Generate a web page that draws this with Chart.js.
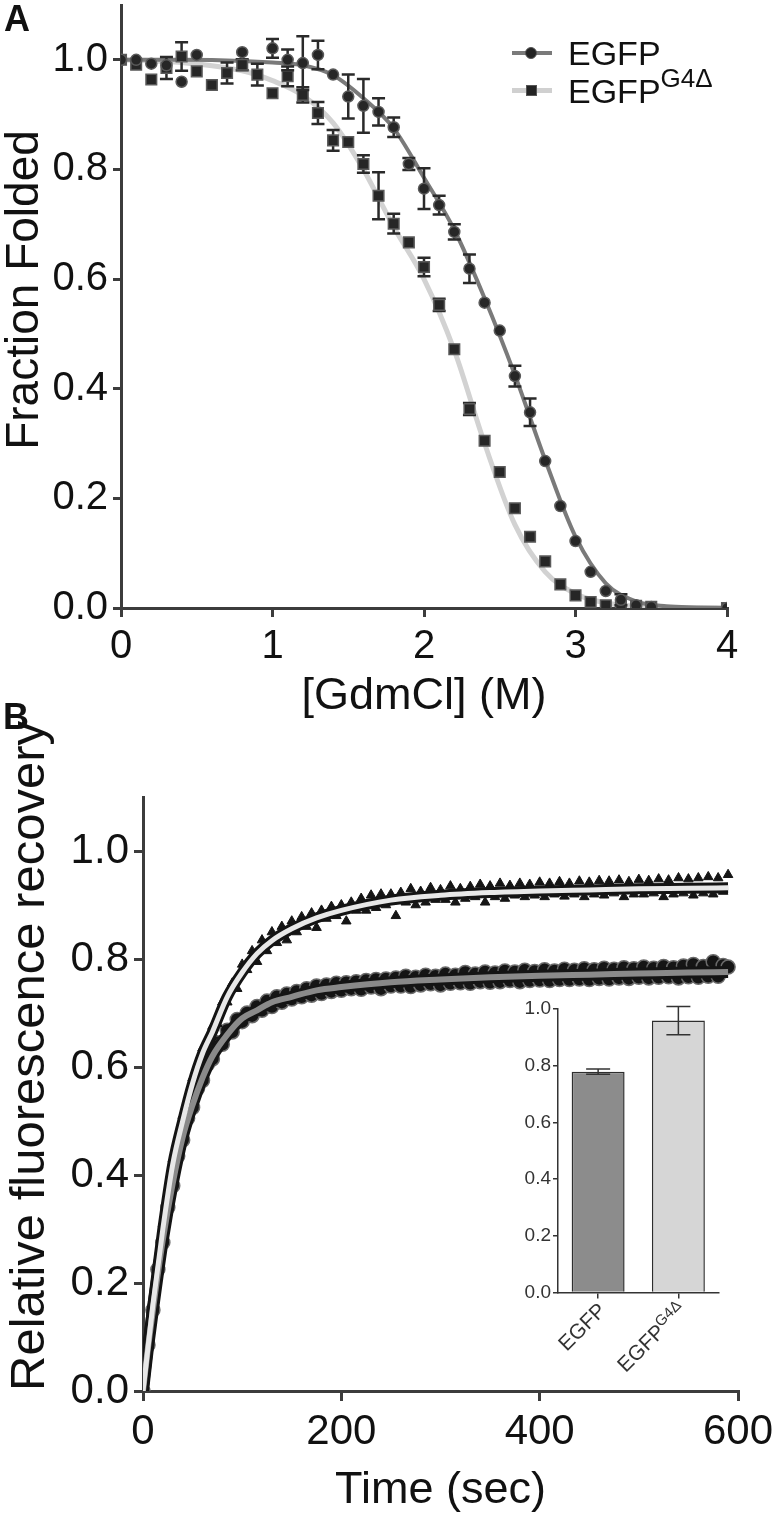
<!DOCTYPE html>
<html>
<head>
<meta charset="utf-8">
<script src="https://cdn.jsdelivr.net/npm/chart.js@4.4.1/dist/chart.umd.min.js"></script>
<style>
  html, body { margin:0; padding:0; background:#fff; }
  body { width:774px; height:1517px; overflow:hidden; position:relative; font-family:"Liberation Sans", Arial, sans-serif; color:#111; }
  canvas { position:absolute; }
  #cA { left:0; top:-40px; }
  #cB { left:0; top:690px; }
  #cIn { left:470px; top:985px; }
  .plab { position:absolute; font-weight:bold; font-size:36px; line-height:36px; }
  .leg { position:absolute; left:568px; font-size:34px; line-height:34px; white-space:nowrap; }
  .leg sup { font-size:26px; vertical-align:baseline; position:relative; top:-16px; }
  .ln { position:absolute; left:512px; width:40px; }
  .mk { position:absolute; background:#232323; border:1px solid #555; box-sizing:border-box; }
</style>
</head>
<body>
<canvas id="cA" width="800" height="764"></canvas>
<canvas id="cB" width="800" height="828"></canvas>
<canvas id="cIn" width="270" height="415"></canvas>

<div class="plab" style="left:4px; top:1px;">A</div>
<div class="plab" style="left:3px; top:699px;">B</div>

<div class="ln" style="top:51px; height:4px; background:#7a7a7a;"></div>
<div class="mk" style="left:525px; top:47px; width:12px; height:12px; border-radius:50%;"></div>
<div class="leg" style="top:36px;">EGFP</div>
<div class="ln" style="top:88px; height:5px; background:#d0d0d0;"></div>
<div class="mk" style="left:526px; top:85px; width:11px; height:11px;"></div>
<div class="leg" style="top:74px;">EGFP<sup>G4Δ</sup></div>

<script>
// ---- panel A : denaturation curves ----
const egfpGdm  = [0,0.1,0.2,0.3,0.4,0.5,0.8,1.0,1.1,1.2,1.3,1.4,1.5,1.6,1.7,1.8,1.9,2.0,2.1,2.2,2.3,2.4,2.5,2.6,2.7,2.8,2.9,3.0,3.1,3.2,3.3,3.4,3.5,4.0];
const egfpFrac = [1.0,1.0,0.993,0.99,0.96,1.009,1.014,1.021,1.0,0.994,1.009,0.973,0.933,0.916,0.905,0.877,0.81,0.765,0.735,0.686,0.619,0.557,0.506,0.423,0.357,0.268,0.186,0.122,0.066,0.031,0.015,0.005,0.002,0.0];
const egfpErr  = [0,0,0,0,0,0,0,0.017,0.019,0.049,0.026,0,0.04,0.049,0.025,0.018,0.011,0.037,0.017,0.014,0.026,0,0,0.019,0.025,0,0,0,0,0,0.01,0,0,0];

const g4Gdm  = [0,0.1,0.2,0.3,0.4,0.5,0.6,0.7,0.8,0.9,1.0,1.1,1.2,1.3,1.4,1.5,1.6,1.7,1.8,1.9,2.0,2.1,2.2,2.3,2.4,2.5,2.6,2.7,2.8,2.9,3.0,3.1,3.2,3.3,3.4,3.5,4.0];
const g4Frac = [1.0,0.991,0.964,0.985,1.006,0.979,0.954,0.976,0.991,0.973,0.939,0.97,0.936,0.903,0.853,0.85,0.81,0.752,0.701,0.667,0.622,0.553,0.472,0.363,0.305,0.248,0.182,0.13,0.085,0.043,0.023,0.011,0.005,0.004,0.004,0.002,0.0];
const g4Err  = [0,0,0,0.02,0.026,0,0,0.019,0.01,0.02,0,0.018,0.014,0.02,0.019,0,0.016,0.043,0.018,0,0.017,0.011,0,0.011,0,0,0,0,0,0,0,0,0,0,0,0,0];

const fitGdm  = [0,0.4,0.8,1.0,1.2,1.4,1.6,1.8,2.0,2.2,2.4,2.6,2.8,3.0,3.2,3.4,3.6,3.8,4.0];
const egfpFit = [1.0,1.0,0.998,0.995,0.99,0.972,0.93,0.875,0.785,0.69,0.565,0.425,0.27,0.13,0.045,0.012,0.003,0.001,0.0];
const g4Fit   = [1.0,0.995,0.98,0.962,0.935,0.885,0.8,0.695,0.6,0.47,0.3,0.152,0.066,0.026,0.009,0.003,0.001,0.0,0.0];

// ---- panel B : FRAP recovery ----
const timeSec = [0,5,10,15,20,25,30,35,40,45,50,55,60,65,70,75,80,85,90,95,
  100,105,110,115,120,125,130,135,140,145,150,155,160,165,170,175,180,185,190,195,
  200,205,210,215,220,225,230,235,240,245,250,255,260,265,270,275,280,285,290,295,
  300,305,310,315,320,325,330,335,340,345,350,355,360,365,370,375,380,385,390,395,
  400,405,410,415,420,425,430,435,440,445,450,455,460,465,470,475,480,485,490,495,
  500,505,510,515,520,525,530,535,540,545,550,555,560,565,570,575,580,585,590];
const g4Rec = [0.00,0.09,0.17,0.22,0.31,0.35,0.43,0.46,0.51,0.53,0.58,0.59,0.635,0.64,0.675,0.68,0.72,0.72,0.755,0.745,
  0.79,0.78,0.815,0.795,0.835,0.815,0.85,0.83,0.86,0.835,0.87,0.85,0.878,0.86,0.885,0.858,0.89,0.875,0.897,0.88,
  0.90,0.87,0.905,0.89,0.912,0.89,0.918,0.895,0.92,0.90,0.92,0.88,0.923,0.905,0.93,0.90,0.925,0.905,0.932,0.91,
  0.928,0.91,0.935,0.905,0.93,0.912,0.934,0.915,0.938,0.905,0.935,0.915,0.94,0.912,0.936,0.918,0.94,0.915,0.938,0.918,
  0.942,0.915,0.94,0.92,0.943,0.916,0.94,0.92,0.944,0.915,0.942,0.92,0.945,0.918,0.944,0.922,0.946,0.915,0.943,0.92,
  0.947,0.92,0.945,0.922,0.948,0.915,0.946,0.92,0.95,0.922,0.948,0.918,0.95,0.922,0.952,0.92,0.95,0.925,0.956];
const egfpRec = [0.00,0.085,0.15,0.225,0.275,0.34,0.38,0.435,0.465,0.505,0.525,0.56,0.575,0.605,0.615,0.645,0.642,0.668,0.665,0.688,
  0.684,0.70,0.695,0.712,0.705,0.722,0.712,0.73,0.72,0.735,0.726,0.74,0.73,0.745,0.733,0.75,0.736,0.752,0.74,0.755,
  0.742,0.756,0.745,0.758,0.744,0.76,0.748,0.762,0.745,0.763,0.75,0.765,0.75,0.768,0.749,0.766,0.752,0.77,0.754,0.768,
  0.752,0.772,0.755,0.77,0.756,0.775,0.755,0.772,0.758,0.776,0.757,0.774,0.758,0.778,0.76,0.776,0.758,0.779,0.76,0.777,
  0.761,0.78,0.76,0.778,0.762,0.781,0.762,0.779,0.763,0.782,0.762,0.78,0.764,0.783,0.763,0.781,0.765,0.784,0.764,0.782,
  0.766,0.785,0.765,0.783,0.766,0.786,0.767,0.784,0.765,0.787,0.767,0.79,0.766,0.786,0.768,0.795,0.768,0.788,0.785];

const fitTime    = [0,5,10,20,30,40,50,60,70,85,100,115,130,150,175,200,250,300,350,400,450,500,550,590];
const g4RecFit   = [0,0.08,0.16,0.30,0.42,0.50,0.57,0.625,0.665,0.73,0.775,0.81,0.834,0.856,0.876,0.89,0.909,0.918,0.923,0.926,0.928,0.93,0.931,0.932];
const egfpRecFit = [0,0.08,0.15,0.28,0.385,0.47,0.53,0.58,0.62,0.66,0.69,0.705,0.72,0.73,0.742,0.748,0.757,0.762,0.766,0.769,0.771,0.773,0.775,0.776];

// ---- inset : plateau ----
const insetNames = ['EGFP', 'EGFP'];
const insetSups  = ['', 'G4Δ'];
const insetVals  = [0.779, 0.959];
const insetErr   = [0.009, 0.05];

const FONT = '"Liberation Sans", Arial, sans-serif';
Chart.defaults.font.family = FONT;
Chart.defaults.color = '#111';
const AX = '#3c3c3c';

function pts(xs, ys) { return xs.map((x, i) => ({x: x, y: ys[i]})); }

const errorBars = {
  id: 'errorBars',
  beforeDatasetDraw(chart, args) {
    const ds = chart.data.datasets[args.index];
    if (ds.errors && !ds.errOnTop) drawErr(chart, args.meta, ds);
  },
  afterDatasetDraw(chart, args) {
    const ds = chart.data.datasets[args.index];
    if (ds.errors && ds.errOnTop) drawErr(chart, args.meta, ds);
  }
};
function drawErr(chart, meta, ds) {
  const ctx = chart.ctx, yS = chart.scales[meta.yAxisID];
  ctx.save();
  ctx.strokeStyle = ds.errColor || '#2a2a2a';
  ctx.lineWidth = ds.errWidth || 2.5;
  meta.data.forEach((el, i) => {
    const e = ds.errors[i];
    if (!e) return;
    const v = typeof ds.data[i] === 'object' ? ds.data[i].y : ds.data[i];
    const y1 = yS.getPixelForValue(v + e), y2 = yS.getPixelForValue(v - e);
    const c = ds.capWidth / 2, x = el.x;
    ctx.beginPath();
    ctx.moveTo(x, y1); ctx.lineTo(x, y2);
    ctx.moveTo(x - c, y1); ctx.lineTo(x + c, y1);
    ctx.moveTo(x - c, y2); ctx.lineTo(x + c, y2);
    ctx.stroke();
  });
  ctx.restore();
}

const yTitle = {
  id: 'yTitle',
  afterDraw(chart, args, o) {
    const ctx = chart.ctx;
    ctx.save();
    ctx.font = o.size + 'px ' + FONT;
    ctx.fillStyle = '#111';
    ctx.translate(o.x, o.y);
    ctx.rotate(-Math.PI / 2);
    ctx.textAlign = o.align;
    ctx.textBaseline = 'middle';
    ctx.fillText(o.text, 0, 0);
    ctx.restore();
  }
};

function yAxis(width, tickLen, size, pad) {
  return {
    min: 0, max: 1.1,
    border: {display: true, color: AX, width: 3},
    grid: {display: true, drawOnChartArea: false, drawTicks: true, tickLength: tickLen, color: AX, lineWidth: 3},
    ticks: {stepSize: 0.2, includeBounds: false, font: {size: size}, color: '#111', padding: pad, callback: v => v.toFixed(1)},
    afterBuildTicks: s => { s.ticks = s.ticks.filter(t => t.value <= 1.0001); },
    afterFit: s => { s.width = width; }
  };
}
function xAxis(min, max, step, height, tickLen, size, pad, title, tsize) {
  return {
    type: 'linear', min: min, max: max,
    border: {display: true, color: AX, width: 3},
    grid: {display: true, drawOnChartArea: false, drawTicks: true, tickLength: tickLen, color: AX, lineWidth: 3},
    ticks: {stepSize: step, font: {size: size}, color: '#111', padding: pad, maxRotation: 0},
    title: {display: true, text: title, font: {size: tsize}, color: '#111', padding: 0},
    afterFit: s => { s.height = height; }
  };
}

// Panel A
new Chart(document.getElementById('cA'), {
  type: 'scatter',
  data: {
    datasets: [
      {label: 'EGFP', data: pts(egfpGdm, egfpFrac), errors: egfpErr, capWidth: 13,
       pointStyle: 'circle', pointRadius: 5.5, backgroundColor: '#262626', borderColor: '#5a5a5a', borderWidth: 1.5},
      {label: 'EGFP G4Δ', data: pts(g4Gdm, g4Frac), errors: g4Err, capWidth: 13,
       pointStyle: 'rect', pointRadius: 7.5, backgroundColor: '#262626', borderColor: '#5a5a5a', borderWidth: 1.5},
      {label: 'EGFP fit', type: 'line', data: pts(fitGdm, egfpFit), showLine: true, pointRadius: 0,
       borderColor: '#7a7a7a', borderWidth: 4, cubicInterpolationMode: 'monotone'},
      {label: 'G4 fit', type: 'line', data: pts(fitGdm, g4Fit), showLine: true, pointRadius: 0,
       borderColor: '#d2d2d2', borderWidth: 5, cubicInterpolationMode: 'monotone'}
    ]
  },
  options: {
    responsive: false, animation: false, devicePixelRatio: 1,
    layout: {padding: {top: 45, right: 73, left: 0, bottom: 0}},
    plugins: {legend: {display: false}, tooltip: {enabled: false},
      yTitle: {text: 'Fraction Folded', x: 25, y: 330, size: 46, align: 'center'}},
    scales: {
      x: xAxis(0, 4, 1, 116, 9, 40, 6, '[GdmCl] (M)', 45),
      y: yAxis(121, 8, 40, 5)
    }
  },
  plugins: [errorBars, yTitle]
});

// Panel B
new Chart(document.getElementById('cB'), {
  type: 'scatter',
  data: {
    datasets: [
      {label: 'G4 fit', type: 'line', data: pts(fitTime, g4RecFit), showLine: true, pointRadius: 0,
       borderColor: '#e8e8e8', borderWidth: 5, cubicInterpolationMode: 'monotone'},
      {label: 'EGFP fit', type: 'line', data: pts(fitTime, egfpRecFit), showLine: true, pointRadius: 0,
       borderColor: '#8a8a8a', borderWidth: 6, cubicInterpolationMode: 'monotone'},
      {label: 'G4 fit edge', type: 'line', data: pts(fitTime, g4RecFit), showLine: true, pointRadius: 0,
       borderColor: '#141414', borderWidth: 11, cubicInterpolationMode: 'monotone'},
      {label: 'EGFP fit edge', type: 'line', data: pts(fitTime, egfpRecFit), showLine: true, pointRadius: 0,
       borderColor: '#141414', borderWidth: 12, cubicInterpolationMode: 'monotone'},
      {label: 'EGFP G4Δ', data: pts(timeSec, g4Rec), pointStyle: 'triangle', pointRadius: 5.5,
       backgroundColor: '#151515', borderColor: '#151515', borderWidth: 1},
      {label: 'EGFP', data: pts(timeSec, egfpRec), pointStyle: 'circle', pointRadius: 7,
       backgroundColor: '#151515', borderColor: '#6a6a6a', borderWidth: 1.5}
    ]
  },
  options: {
    responsive: false, animation: false, devicePixelRatio: 1,
    layout: {padding: {top: 107, right: 62, left: 0, bottom: 0}},
    plugins: {legend: {display: false}, tooltip: {enabled: false},
      yTitle: {text: 'Relative fluorescence recovery', x: 30, y: 701, size: 49, align: 'left'}},
    scales: {
      x: xAxis(0, 600, 200, 127, 10, 42, 6, 'Time (sec)', 45),
      y: yAxis(143, 9, 42, 5)
    }
  },
  plugins: [yTitle]
});

// Inset
const insetLabels = {
  id: 'insetLabels',
  afterDraw(chart) {
    const ctx = chart.ctx, xs = chart.scales.x;
    ctx.save();
    ctx.fillStyle = '#333';
    ctx.textBaseline = 'middle';
    insetNames.forEach((name, i) => {
      const x = xs.getPixelForTick(i) + 5, y = xs.top + 15;
      ctx.font = '21px ' + FONT;
      const wb = ctx.measureText(name).width;
      ctx.font = '15px ' + FONT;
      const ws = insetSups[i] ? ctx.measureText(insetSups[i]).width : 0;
      ctx.translate(x, y);
      ctx.rotate(-Math.PI / 4);
      ctx.textAlign = 'left';
      ctx.font = '21px ' + FONT;
      ctx.fillText(name, -(wb + ws), 0);
      if (insetSups[i]) { ctx.font = '15px ' + FONT; ctx.fillText(insetSups[i], -ws, -6); }
      ctx.setTransform(1, 0, 0, 1, 0, 0);
    });
    ctx.restore();
  }
};

new Chart(document.getElementById('cIn'), {
  type: 'bar',
  data: {
    labels: insetNames.map((n, i) => n + insetSups[i]),
    datasets: [{
      data: insetVals, errors: insetErr, errOnTop: true, capWidth: 24, errWidth: 1.5, errColor: '#333',
      backgroundColor: ['#8c8c8c', '#d6d6d6'], borderColor: '#2e2e2e', borderWidth: 1.5,
      borderSkipped: 'bottom', barPercentage: 0.66, categoryPercentage: 1
    }]
  },
  options: {
    responsive: false, animation: false, devicePixelRatio: 1,
    layout: {padding: {top: 24, right: 21.5, left: 0, bottom: 0}},
    plugins: {legend: {display: false}, tooltip: {enabled: false}},
    scales: {
      x: {
        offset: true,
        border: {display: true, color: '#333', width: 1.5},
        grid: {display: true, offset: false, drawOnChartArea: false, drawTicks: true, tickLength: 6, color: '#333', lineWidth: 1.5},
        ticks: {display: false},
        afterFit: s => { s.height = 107.5; }
      },
      y: {
        min: 0, max: 1.0,
        border: {display: true, color: '#333', width: 1.5},
        grid: {display: true, drawOnChartArea: false, drawTicks: true, tickLength: 5, color: '#333', lineWidth: 1.5},
        ticks: {stepSize: 0.2, font: {size: 19}, color: '#333', padding: 2, callback: v => v.toFixed(1)},
        afterFit: s => { s.width = 88; }
      }
    }
  },
  plugins: [errorBars, insetLabels]
});
</script>
</body>
</html>
